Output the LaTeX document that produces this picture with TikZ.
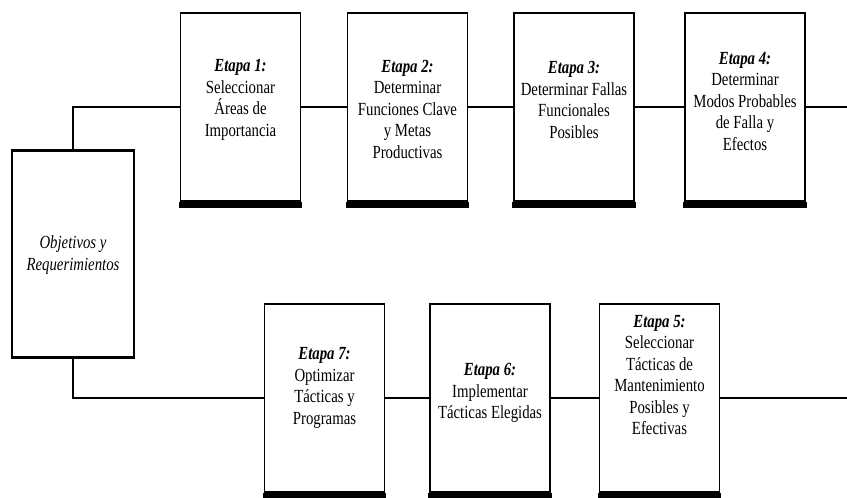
\documentclass[tikz,border=0pt]{standalone}
\usepackage{fontspec}
\setmainfont{Liberation Serif}[FakeStretch=0.8]
\begin{document}
\begin{tikzpicture}[x=1pt,y=-1pt,
  stagebox/.style={draw, line width=1.8pt, fill=white, minimum width=120pt,
    minimum height=188pt, inner sep=0pt},
  txt/.style={align=center, font=\fontsize{18.5}{21.5}\selectfont, inner sep=0pt},
  wire/.style={line width=1.3pt},
  shadowbar/.style={fill=black}
]
\useasboundingbox (0,0) rectangle (847,498);

% objectives box
\node[stagebox, minimum width=122pt, minimum height=206pt] (obj) at (73,254) {};
\draw[line width=3pt] (obj.north west) -- (obj.north east);
\draw[line width=3pt] (obj.south west) -- (obj.south east);
\node[txt] (tobj) at (73,255) {\itshape Objetivos y\\\itshape Requerimientos};

% upper row of stages
\node[stagebox] (e1) at (240.5,107) {};
\node[stagebox] (e2) at (407.5,107) {};
\node[stagebox] (e3) at (574,107) {};
\node[stagebox] (e4) at (745,107) {};

% lower row of stages
\node[stagebox] (e7) at (324.5,398) {};
\node[stagebox] (e6) at (490,398) {};
\node[stagebox] (e5) at (659.5,398) {};

% heavy shadow under each stage box
\foreach \b in {e1,e2,e3,e4,e7,e6,e5}{
  \fill[shadowbar] ([xshift=-0.9pt]\b.south west) rectangle ([xshift=0.9pt,yshift=-6pt]\b.south east);
}

% stage texts
\node[txt] (t1) at (240.5,100) {\textbf{\textit{Etapa 1:}}\\Seleccionar\\Áreas de\\Importancia};
\node[txt] (t2) at (407.5,109) {\textbf{\textit{Etapa 2:}}\\Determinar\\Funciones Clave\\y Metas\\Productivas};
\node[txt] (t3) at (574,100) {\textbf{\textit{Etapa 3:}}\\Determinar Fallas\\Funcionales\\Posibles};
\node[txt] (t4) at (745,101) {\textbf{\textit{Etapa 4:}}\\Determinar\\Modos Probables\\de Falla y\\Efectos};
\node[txt] (t7) at (324.5,388) {\textbf{\textit{Etapa 7:}}\\Optimizar\\Tácticas y\\Programas};
\node[txt] (t6) at (490,393) {\textbf{\textit{Etapa 6:}}\\Implementar\\Tácticas Elegidas};
\node[txt] (t5) at (659.5,375) {\textbf{\textit{Etapa 5:}}\\Seleccionar\\Tácticas de\\Mantenimiento\\Posibles y\\Efectivas};

% connectors
\coordinate (topend) at (847,107);
\coordinate (botend) at (847,398);
\draw[wire] (obj.north) |- (e1.west);
\draw[wire] (e1.east) -- (e2.west);
\draw[wire] (e2.east) -- (e3.west);
\draw[wire] (e3.east) -- (e4.west);
\draw[wire] (e4.east) -- (topend);
\draw[wire] (obj.south) |- (e7.west);
\draw[wire] (e7.east) -- (e6.west);
\draw[wire] (e6.east) -- (e5.west);
\draw[wire] (e5.east) -- (botend);
\end{tikzpicture}
\end{document}
